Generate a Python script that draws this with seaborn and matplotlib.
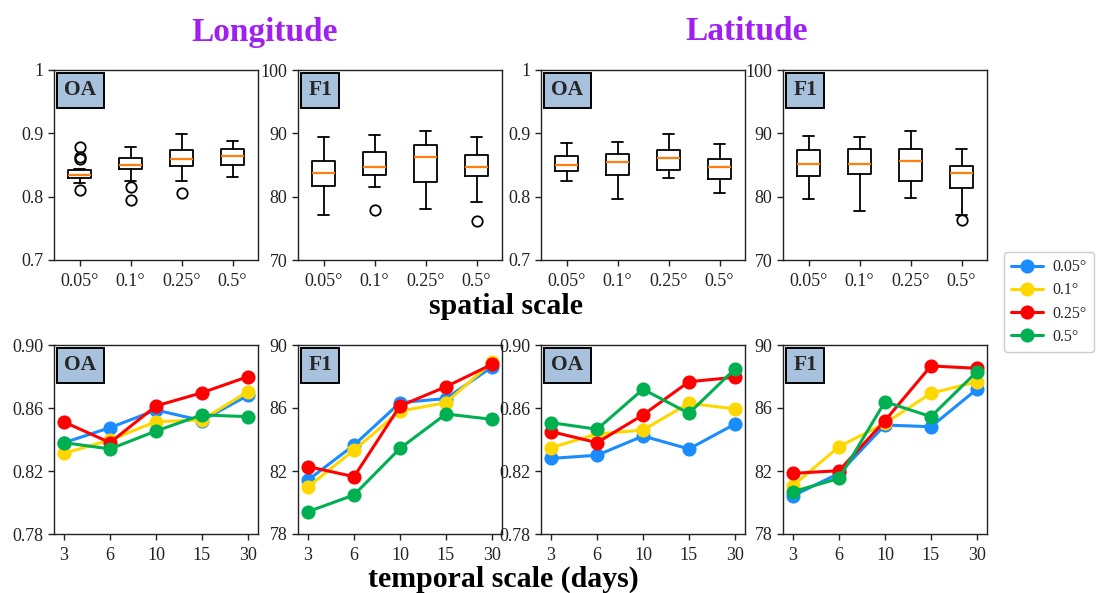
import numpy as np
import pandas as pd
import matplotlib
matplotlib.use("Agg")
import matplotlib.pyplot as plt
import seaborn as sns

# ---------------- data ----------------
scales = ["0.05°", "0.1°", "0.25°", "0.5°"]
days = ["3", "6", "10", "15", "30"]

# box summaries (spatial scale)
lon_oa_whislo = [0.822, 0.825, 0.824, 0.831]
lon_oa_q1 = [0.829, 0.843, 0.848, 0.850]
lon_oa_med = [0.834, 0.850, 0.860, 0.864]
lon_oa_q3 = [0.842, 0.861, 0.873, 0.875]
lon_oa_whishi = [0.843, 0.878, 0.899, 0.888]
lon_oa_fliers = [[0.878, 0.863, 0.859, 0.811], [0.815, 0.795], [0.805], []]

lon_f1_whislo = [77.1, 81.6, 78.0, 79.2]
lon_f1_q1 = [81.7, 83.5, 82.3, 83.2]
lon_f1_med = [83.8, 84.7, 86.3, 84.7]
lon_f1_q3 = [85.6, 87.1, 88.2, 86.6]
lon_f1_whishi = [89.4, 89.7, 90.4, 89.5]
lon_f1_fliers = [[], [77.9], [], [76.2]]

lat_oa_whislo = [0.825, 0.796, 0.829, 0.805]
lat_oa_q1 = [0.840, 0.834, 0.842, 0.828]
lat_oa_med = [0.850, 0.854, 0.861, 0.847]
lat_oa_q3 = [0.864, 0.867, 0.873, 0.859]
lat_oa_whishi = [0.885, 0.886, 0.899, 0.883]
lat_oa_fliers = [[], [], [], []]

lat_f1_whislo = [79.7, 77.8, 79.8, 77.1]
lat_f1_q1 = [83.2, 83.6, 82.5, 81.4]
lat_f1_med = [85.2, 85.1, 85.6, 83.8]
lat_f1_q3 = [87.3, 87.6, 87.5, 84.8]
lat_f1_whishi = [89.6, 89.5, 90.4, 87.6]
lat_f1_fliers = [[], [], [], [76.3]]

# line series (temporal scale), one list per spatial scale
lon_oa_005 = [0.838, 0.8475, 0.8587, 0.852, 0.868]
lon_oa_01 = [0.8312, 0.8397, 0.8513, 0.8524, 0.8704]
lon_oa_025 = [0.8511, 0.838, 0.8613, 0.8697, 0.8799]
lon_oa_05 = [0.838, 0.834, 0.8454, 0.8556, 0.8545]

lon_f1_005 = [81.43, 83.65, 86.34, 86.6, 88.6]
lon_f1_01 = [81.0, 83.33, 85.8, 86.34, 88.9]
lon_f1_025 = [82.28, 81.64, 86.13, 87.35, 88.77]
lon_f1_05 = [79.42, 80.48, 83.44, 85.62, 85.28]

lat_oa_005 = [0.828, 0.830, 0.8422, 0.834, 0.8498]
lat_oa_01 = [0.8348, 0.8435, 0.846, 0.863, 0.8594]
lat_oa_025 = [0.845, 0.838, 0.8556, 0.8767, 0.8795]
lat_oa_05 = [0.8507, 0.8465, 0.8719, 0.8566, 0.8848]

lat_f1_005 = [80.43, 81.85, 84.92, 84.81, 87.19]
lat_f1_01 = [81.07, 83.55, 85.03, 86.93, 87.67]
lat_f1_025 = [81.85, 82.02, 85.2, 88.67, 88.52]
lat_f1_05 = [80.69, 81.53, 86.4, 85.45, 88.31]

colors = ["#1a8cff", "#ffd700", "#ff0000", "#00b050"]

# ---------------- style ----------------
sns.set_theme(style="ticks")
plt.rcParams["font.family"] = ["Liberation Serif", "DejaVu Serif"]
plt.rcParams["axes.edgecolor"] = "#222222"
plt.rcParams["axes.linewidth"] = 1.0
plt.rcParams["xtick.color"] = "#222222"
plt.rcParams["ytick.color"] = "#222222"

W, H = 1099, 593
fig = plt.figure(figsize=(W / 100, H / 100), dpi=100)

lefts = [54, 298, 541, 783]
pw = 204


def add_ax(left_px, top_px, bottom_px):
    return fig.add_axes([left_px / W, (H - bottom_px) / H, pw / W, (bottom_px - top_px) / H])


def panel_label(ax, txt):
    ax.annotate(txt, xy=(0, 1), xycoords="axes fraction", xytext=(7.5, -7.5),
                textcoords="offset points", ha="left", va="top", fontsize=15.5,
                fontweight="bold", zorder=10,
                bbox=dict(boxstyle="square,pad=0.33", fc="#a8c2dd", ec="black", lw=1.4))


def box_panel(ax, whislo, q1, med, q3, whishi, fliers, ylim, yticks, yticklabels, lab):
    stats = []
    for i in range(len(scales)):
        stats.append(dict(label=scales[i], whislo=whislo[i], q1=q1[i], med=med[i],
                          q3=q3[i], whishi=whishi[i], fliers=fliers[i]))
    ax.bxp(stats, widths=0.45, showfliers=True,
           boxprops=dict(color="black", lw=1.3),
           whiskerprops=dict(color="black", lw=1.3),
           capprops=dict(color="black", lw=1.3),
           medianprops=dict(color="#ff7f0e", lw=1.6),
           flierprops=dict(marker="o", mfc="none", mec="black", ms=7.5, mew=1.3))
    ax.set_xlim(0.5, 4.5)
    ax.set_ylim(*ylim)
    ax.set_yticks(yticks)
    ax.set_yticklabels(yticklabels)
    ax.tick_params(labelsize=13, length=4, width=1)
    ax.tick_params(axis="x", pad=5)
    panel_label(ax, lab)


def line_panel(ax, series, ylim, yticks, yticklabels, lab, legend=False):
    rows = []
    for sc, vals in zip(scales, series):
        for d, v in zip(days, vals):
            rows.append((d, v, sc))
    df = pd.DataFrame(rows, columns=["day", "val", "scale"])
    sns.pointplot(data=df, x="day", y="val", hue="scale", order=days, hue_order=scales,
                  palette=colors, markers="o", linestyles="-", markersize=8.5,
                  linewidth=2.2, errorbar=None, ax=ax, legend=legend)
    ax.set_xlim(-0.22, 4.22)
    ax.set_ylim(*ylim)
    ax.set_yticks(yticks)
    ax.set_yticklabels(yticklabels)
    ax.set_xlabel("")
    ax.set_ylabel("")
    ax.tick_params(labelsize=13, length=4, width=1)
    ax.tick_params(axis="x", pad=5)
    panel_label(ax, lab)


# top row
ax1 = add_ax(lefts[0], 70, 260)
box_panel(ax1, lon_oa_whislo, lon_oa_q1, lon_oa_med, lon_oa_q3, lon_oa_whishi, lon_oa_fliers,
          (0.7, 1.0), [0.7, 0.8, 0.9, 1.0], ["0.7", "0.8", "0.9", "1"], "OA")
ax2 = add_ax(lefts[1], 70, 260)
box_panel(ax2, lon_f1_whislo, lon_f1_q1, lon_f1_med, lon_f1_q3, lon_f1_whishi, lon_f1_fliers,
          (70, 100), [70, 80, 90, 100], ["70", "80", "90", "100"], "F1")
ax3 = add_ax(lefts[2], 70, 260)
box_panel(ax3, lat_oa_whislo, lat_oa_q1, lat_oa_med, lat_oa_q3, lat_oa_whishi, lat_oa_fliers,
          (0.7, 1.0), [0.7, 0.8, 0.9, 1.0], ["0.7", "0.8", "0.9", "1"], "OA")
ax4 = add_ax(lefts[3], 70, 260)
box_panel(ax4, lat_f1_whislo, lat_f1_q1, lat_f1_med, lat_f1_q3, lat_f1_whishi, lat_f1_fliers,
          (70, 100), [70, 80, 90, 100], ["70", "80", "90", "100"], "F1")

# bottom row
oa_ticks = [0.78, 0.82, 0.86, 0.90]
oa_lbls = ["0.78", "0.82", "0.86", "0.90"]
f1_ticks = [78, 82, 86, 90]
f1_lbls = ["78", "82", "86", "90"]

ax5 = add_ax(lefts[0], 345, 534)
line_panel(ax5, [lon_oa_005, lon_oa_01, lon_oa_025, lon_oa_05], (0.78, 0.90), oa_ticks, oa_lbls, "OA", legend=True)
handles, labels = ax5.get_legend_handles_labels()
ax5.get_legend().remove()
ax6 = add_ax(lefts[1], 345, 534)
line_panel(ax6, [lon_f1_005, lon_f1_01, lon_f1_025, lon_f1_05], (78, 90), f1_ticks, f1_lbls, "F1")
ax7 = add_ax(lefts[2], 345, 534)
line_panel(ax7, [lat_oa_005, lat_oa_01, lat_oa_025, lat_oa_05], (0.78, 0.90), oa_ticks, oa_lbls, "OA")
ax8 = add_ax(lefts[3], 345, 534)
line_panel(ax8, [lat_f1_005, lat_f1_01, lat_f1_025, lat_f1_05], (78, 90), f1_ticks, f1_lbls, "F1")

# titles / labels
purple = "#a020f0"
fig.text(265 / W, 1 - 32 / H, "Longitude", ha="center", va="center", fontsize=24,
         fontweight="bold", color=purple)
fig.text(747 / W, 1 - 32 / H, "Latitude", ha="center", va="center", fontsize=24,
         fontweight="bold", color=purple)
fig.text(506 / W, 1 - 307 / H, "spatial scale", ha="center", va="center", fontsize=21.5,
         fontweight="bold", color="black")
fig.text(503 / W, 1 - 579 / H, "temporal scale (days)", ha="center", va="center",
         fontsize=21.5, fontweight="bold", color="black")

fig.legend(handles, labels, loc="upper left", bbox_to_anchor=(1004 / W, 1 - 252 / H),
           fontsize=11.5, frameon=True, edgecolor="#cccccc", framealpha=1,
           labelspacing=0.45, handlelength=2.0, handletextpad=0.6, borderpad=0.45,
           borderaxespad=0.0)

fig.savefig("out.png", dpi=100)
